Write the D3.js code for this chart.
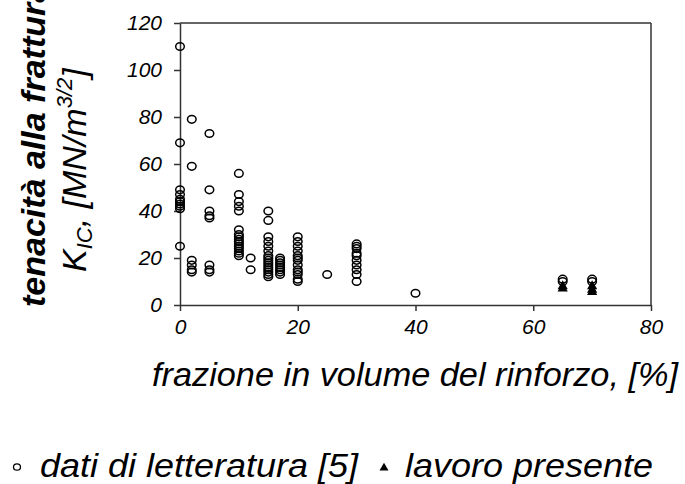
<!DOCTYPE html>
<html>
<head>
<meta charset="utf-8">
<script src="https://cdn.jsdelivr.net/npm/d3@7"></script>
<style>
  body { margin: 0; background: #fff; }
  text { font-family: "Liberation Sans", Arial, sans-serif; font-style: italic; fill: #000; }
</style>
</head>
<body>
<div id="chart"></div>
<script>
// literature data: one column of K_IC values per volume fraction
var litX = [0, 2, 5, 10, 12, 15, 17, 20, 25, 30, 40, 65, 70];
var litK = [
  [110, 69, 49, 47, 45, 44, 43, 42, 41, 25],
  [79, 59, 19, 17, 15, 14],
  [73, 49, 40, 38, 37, 17, 15, 14],
  [56, 47, 44, 42, 40, 32, 30, 29, 28, 27, 26, 25, 24, 23, 22, 21],
  [20, 15],
  [40, 36, 29, 27, 25, 23, 21, 20, 19, 18, 17, 16, 15, 14, 13, 12],
  [20, 19, 18, 17, 16, 15, 14, 13],
  [29, 27, 25, 23, 21, 20, 19, 17, 15, 14, 13, 11, 10],
  [13],
  [26, 25, 24, 22, 21, 19, 17, 15, 13, 10],
  [5],
  [11, 10],
  [11, 10]
];
// present work
var presX = [65, 70];
var presK = [[8, 7], [8, 6.5, 5.5]];

var xTicks = [0, 20, 40, 60, 80];
var yTicks = [0, 20, 40, 60, 80, 100, 120];

var W = 685, H = 484;
var svg = d3.select("#chart").append("svg").attr("width", W).attr("height", H);

var x = d3.scaleLinear().domain([0, 80]).range([180, 651]);
var y = d3.scaleLinear().domain([0, 120]).range([305, 23]);

var axisColor = "#333";

// frame: top and right lines
svg.append("line").attr("x1", x(0)).attr("x2", x(80)).attr("y1", y(120)).attr("y2", y(120))
  .attr("stroke", axisColor).attr("stroke-width", 1.5);
svg.append("line").attr("x1", x(80)).attr("x2", x(80)).attr("y1", y(120)).attr("y2", y(0))
  .attr("stroke", axisColor).attr("stroke-width", 1.5);

// axes
var xAxis = svg.append("g").attr("transform", "translate(0," + y(0) + ")")
  .call(d3.axisBottom(x).tickValues(xTicks).tickSize(6).tickSizeOuter(0).tickPadding(8));
var yAxis = svg.append("g").attr("transform", "translate(" + x(0) + ",0)")
  .call(d3.axisLeft(y).tickValues(yTicks).tickSize(6).tickSizeOuter(0).tickPadding(12));

[xAxis, yAxis].forEach(function (g) {
  g.select(".domain").attr("stroke", axisColor).attr("stroke-width", 1.5);
  g.selectAll(".tick line").attr("stroke", axisColor).attr("stroke-width", 1.5);
  g.selectAll(".tick text").attr("font-size", 21).attr("font-family", null).attr("fill", "#000");
});

// literature points
var litPts = [];
litX.forEach(function (xv, i) {
  litK[i].forEach(function (k) { litPts.push({ x: xv, k: k }); });
});
svg.append("g").selectAll("ellipse").data(litPts).enter().append("ellipse")
  .attr("cx", function (d) { return x(d.x); })
  .attr("cy", function (d) { return y(d.k); })
  .attr("rx", 4.3).attr("ry", 3.8)
  .attr("fill", "none").attr("stroke", "#000").attr("stroke-width", 1.5);

// present work
var presPts = [];
presX.forEach(function (xv, i) {
  presK[i].forEach(function (k) { presPts.push({ x: xv, k: k }); });
});
var tri = d3.symbol().type(d3.symbolTriangle).size(45);
svg.append("g").selectAll("path").data(presPts).enter().append("path")
  .attr("d", tri)
  .attr("transform", function (d) { return "translate(" + x(d.x) + "," + y(d.k) + ")"; })
  .attr("fill", "#000");

// y title
var yt = svg.append("g");
yt.append("text").attr("transform", "translate(45,307) rotate(-90)")
  .attr("font-size", 34).attr("font-weight", "bold")
  .text("tenacità alla frattura");
var t2 = yt.append("text").attr("transform", "translate(86,272) rotate(-90)").attr("font-size", 34);
t2.append("tspan").text("K");
t2.append("tspan").attr("font-size", 22).attr("dy", 6).text("IC");
t2.append("tspan").attr("dy", -6).text(", [MN/m");
t2.append("tspan").attr("font-size", 22).attr("dy", -14).text("3/2");
t2.append("tspan").attr("dy", 14).text("]");

// x title
svg.append("text").attr("x", 152).attr("y", 386).attr("font-size", 34)
  .attr("textLength", 526).attr("lengthAdjust", "spacingAndGlyphs")
  .text("frazione in volume del rinforzo, [%]");

// legend
var lg = svg.append("g");
lg.append("ellipse").attr("cx", 17).attr("cy", 467).attr("rx", 3.5).attr("ry", 3.2)
  .attr("fill", "none").attr("stroke", "#000").attr("stroke-width", 1.3);
lg.append("text").attr("x", 40).attr("y", 477).attr("font-size", 34)
  .attr("textLength", 318).attr("lengthAdjust", "spacingAndGlyphs")
  .text("dati di letteratura [5]");
lg.append("path").attr("d", d3.symbol().type(d3.symbolTriangle).size(35))
  .attr("transform", "translate(384,468)").attr("fill", "#000");
lg.append("text").attr("x", 405).attr("y", 477).attr("font-size", 34)
  .attr("textLength", 248).attr("lengthAdjust", "spacingAndGlyphs")
  .text("lavoro presente");
</script>
</body>
</html>
